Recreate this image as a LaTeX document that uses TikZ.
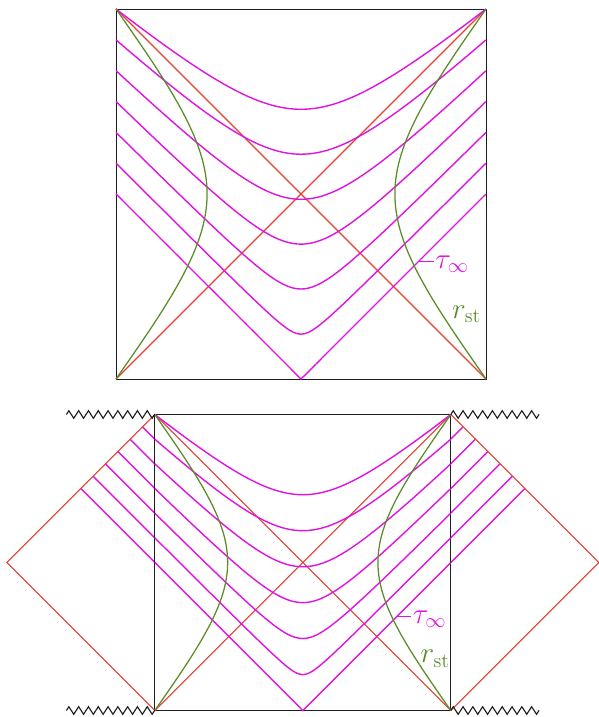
\documentclass[tikz,border=0pt]{standalone}
\usepackage{tikz}
\usetikzlibrary{arrows.meta,positioning,calc,decorations.pathmorphing}
\definecolor{diagMagenta}{RGB}{224,20,224}
\definecolor{diagRed}{RGB}{232,62,46}
\definecolor{diagGreen}{RGB}{92,140,42}
\definecolor{diagDark}{RGB}{30,30,30}

\begin{document}
\begin{tikzpicture}[
  boxline/.style={draw=diagDark, line width=0.6pt},
  horizon/.style={diagRed, line width=0.8pt},
  slice/.style={diagMagenta, line width=1pt},
  stretched/.style={diagGreen, line width=0.9pt},
  singular/.style={diagDark, line width=0.8pt, decorate,
                   decoration={zigzag, segment length=2.45mm, amplitude=0.95mm}},
  curvelabel/.style={font=\huge, inner sep=1pt},
]

% canvas: one pixel of the reference is 0.025cm
\useasboundingbox (0,0) rectangle (14.95,17.925);

\def\cst{0.1775}   % tan^2 of the bulge of r_st
\def\zzlen{2.21cm} % length of the singular zigzags

% ─── helper macro: one square panel in unit coordinates ──────────
% #1 = prefix for the coordinate names
\newcommand{\drawpanel}[1]{%
  \coordinate (#1TL) at (-1,1);  \coordinate (#1TR) at (1,1);
  \coordinate (#1BL) at (-1,-1); \coordinate (#1BR) at (1,-1);
  % frame
  \draw[boxline] (#1BL) rectangle (#1TR);
  % horizons
  \draw[horizon] (#1BL) -- (#1TR);
  \draw[horizon] (#1TL) -- (#1BR);
  % slices of constant tau
  \foreach \kk/\rnd/\slp in {0/0/1, 1/0.079/1, 2/0.167/1, 3/0.263/1,
                             4/0.35/0.98, 5/0.43/0.939, 6/0.46/0.846}{
    \draw[slice] plot[domain=-1:1, samples=101]
      (\x, {\kk/6 - \slp*(sqrt(1+\rnd*\rnd) - sqrt(\x*\x+\rnd*\rnd))});
  }
  % stretched horizon, left and right
  \draw[stretched] (#1BL) -- plot[variable=\t, domain=0.05:89.95, samples=200]
    ({-(\t+atan(\cst/tan(\t)))/90}, {(\t-atan(\cst/tan(\t)))/90}) -- (#1TL);
  \draw[stretched] (#1BR) -- plot[variable=\t, domain=0.05:89.95, samples=200]
    ({(\t+atan(\cst/tan(\t)))/90}, {(\t-atan(\cst/tan(\t)))/90}) -- (#1TR);
  \coordinate (#1tau) at (0.635,-0.365);
  \node[curvelabel, text=diagGreen] (#1rst) at (0.895,-0.65) {$r_{\mathrm{st}}$};
}

% ─── Top panel ────────────────────────────────────────────────────
\begin{scope}[shift={(7.525,13.075)}, scale=4.625]
  \drawpanel{t}
\end{scope}

% ─── Bottom panel with the two static patches ─────────────────────
\begin{scope}[shift={(7.57,3.8625)}, scale=3.7]
  \coordinate (bL) at (-2,0);
  \coordinate (bR) at (2,0);
  \foreach \kk in {0,...,5}{
    \draw[slice] (-1,{\kk/6}) -- ({-1-(1-\kk/6)/2},{(1+\kk/6)/2});
    \draw[slice] (1,{\kk/6}) -- ({1+(1-\kk/6)/2},{(1+\kk/6)/2});
  }
  \drawpanel{b}
  \draw[horizon] (bTL) -- (bL) -- (bBL);
  \draw[horizon] (bTR) -- (bR) -- (bBR);
\end{scope}

% ─── singularities ───────────────────────────────────────────────
\coordinate[left=\zzlen of bTL] (zzTL);
\coordinate[left=\zzlen of bBL] (zzBL);
\coordinate[right=\zzlen of bTR] (zzTR);
\coordinate[right=\zzlen of bBR] (zzBR);
\draw[singular] (zzTL) -- (bTL);
\draw[singular] (zzBL) -- (bBL);
\draw[singular] (bTR) -- (zzTR);
\draw[singular] (bBR) -- (zzBR);

% ─── tau labels ──────────────────────────────────────────────────
\node[curvelabel, text=diagMagenta, anchor=base west] (ttaulab)
  at ($(ttau)+(0.38,-0.17)$) {$\tau_\infty$};
\draw[slice] (ttau) -- (ttau -| ttaulab.west);
\node[curvelabel, text=diagMagenta, anchor=base west] (btaulab)
  at ($(btau)+(0.36,-0.17)$) {$\tau_\infty$};
\draw[slice] (btau) -- (btau -| btaulab.west);

\end{tikzpicture}
\end{document}
